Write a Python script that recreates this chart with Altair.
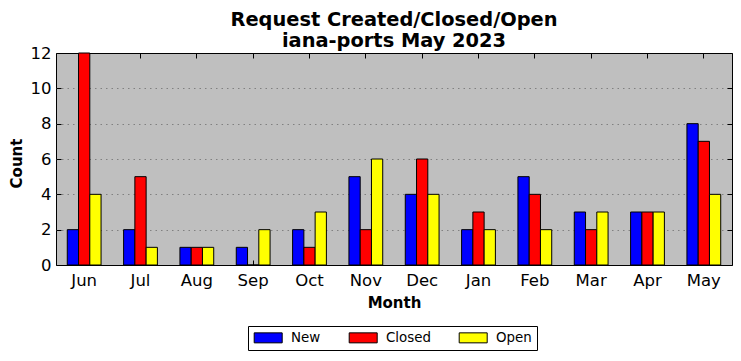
import altair as alt
import pandas as pd

months = ["Jun", "Jul", "Aug", "Sep", "Oct", "Nov", "Dec", "Jan", "Feb", "Mar", "Apr", "May"]
series = ["New", "Closed", "Open"]
colors = ["#0000ff", "#ff0000", "#ffff00"]
new_vals = [2, 2, 1, 1, 2, 5, 4, 2, 5, 3, 3, 8]
closed_vals = [12, 5, 1, 0, 1, 2, 6, 3, 4, 2, 3, 7]
open_vals = [4, 1, 1, 2, 3, 6, 4, 2, 2, 3, 3, 4]
y_ticks = [0, 2, 4, 6, 8, 10, 12]
grid_vals = [2, 4, 6, 8, 10]

rows = []
for s, vals in zip(series, [new_vals, closed_vals, open_vals]):
    for m, v in zip(months, vals):
        rows.append({"month": m, "series": s, "count": v})
df = pd.DataFrame(rows)

FONT = "DejaVu Sans"
xscale = alt.Scale(domain=months, paddingInner=0, paddingOuter=0)
yscale = alt.Scale(domain=[0, 12], nice=False)

base = alt.Chart(df)

bars = base.mark_bar(stroke="black", strokeWidth=1).encode(
    x=alt.X("month:N", sort=months, scale=xscale,
            axis=alt.Axis(orient="bottom", title="Month", labelAngle=0, ticks=False, domain=False,
                          grid=False, labelFontSize=16.5, labelPadding=7, labelColor="black",
                          titleFontSize=15, titleFontWeight="bold", titleColor="black",
                          titleY=30, titleFont=FONT, labelFont=FONT)),
    xOffset=alt.XOffset("series:N", sort=series,
                        scale=alt.Scale(domain=series, paddingInner=0, paddingOuter=1)),
    y=alt.Y("count:Q", scale=yscale,
            axis=alt.Axis(orient="left", title="Count", values=y_ticks, ticks=False, domain=False,
                          grid=False, labelFontSize=16.5, labelPadding=5, labelColor="black",
                          titleFontSize=15, titleFontWeight="bold", titleColor="black",
                          titleX=-32, titleY=110, titleFont=FONT, labelFont=FONT)),
    color=alt.Color("series:N", sort=series, title=None,
                    scale=alt.Scale(domain=series, range=colors),
                    legend=alt.Legend(orient="none", legendX=192, legendY=273,
                                      direction="horizontal",
                                      symbolType="M-2.8,-1L2.8,-1L2.8,1L-2.8,1Z",
                                      symbolSize=100, symbolStrokeColor="black",
                                      symbolStrokeWidth=1, symbolOffset=8.5,
                                      labelOffset=16, labelFontSize=13.4, labelFont=FONT,
                                      labelColor="black", columnPadding=26,
                                      padding=5, strokeColor="black", fillColor="white",
                                      cornerRadius=0)),
)

ticks_tr = base.mark_point(opacity=0).encode(
    x=alt.X("month:N", sort=months, scale=xscale,
            axis=alt.Axis(orient="top", labels=False, ticks=True, tickSize=5, offset=-5,
                          domain=False, grid=False, title=None, tickColor="black")),
    y=alt.Y("count:Q", scale=yscale,
            axis=alt.Axis(orient="right", values=y_ticks, labels=False, ticks=True, tickSize=5,
                          offset=-5, domain=False, grid=False, title=None, tickColor="black")),
)

ticks_bl = base.mark_point(opacity=0).encode(
    x=alt.X("month:N", sort=months, scale=xscale,
            axis=alt.Axis(orient="bottom", labels=False, ticks=True, tickSize=5, offset=-5,
                          domain=False, grid=False, title=None, tickColor="black")),
    y=alt.Y("count:Q", scale=yscale,
            axis=alt.Axis(orient="left", values=y_ticks, labels=False, ticks=True, tickSize=5,
                          offset=-5, domain=False, grid=False, title=None, tickColor="black")),
)

grid = base.mark_point(opacity=0).encode(
    x=alt.X("month:N", sort=months, scale=xscale, axis=None),
    y=alt.Y("count:Q", scale=yscale,
            axis=alt.Axis(orient="left", values=grid_vals, labels=False, ticks=False,
                          domain=False, grid=True, gridColor="#808080", gridDash=[1.5, 4],
                          gridWidth=1, title=None)),
)

chart = alt.layer(bars, grid, ticks_bl, ticks_tr).resolve_axis(
    x="independent", y="independent"
).properties(
    width=676, height=212,
    autosize=alt.AutoSizeParams(type="none"),
    padding={"left": 48, "top": 45, "right": 1, "bottom": 86},
    title=alt.TitleParams(["Request Created/Closed/Open", "iana-ports May 2023"],
                          fontSize=19.4, fontWeight="bold", font=FONT, color="black",
                          lineHeight=21, offset=2, dy=8, anchor="middle"),
).configure(font=FONT).configure_view(
    fill="#bfbfbf", stroke="black", strokeWidth=1
)

chart.save("out.html", embed_options={"renderer": "svg", "actions": False})
